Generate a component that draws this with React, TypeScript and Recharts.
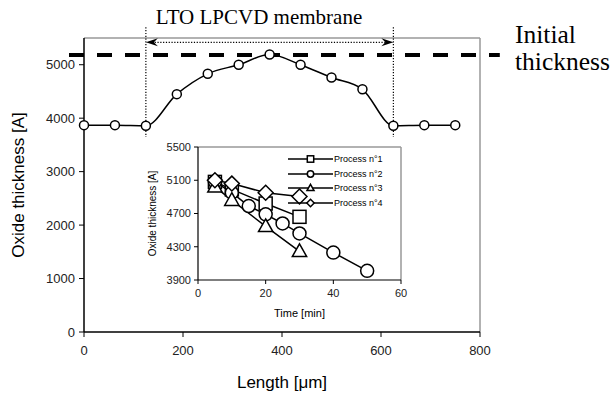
import React from "react";
import {
  ComposedChart,
  LineChart,
  Line,
  XAxis,
  YAxis,
  ReferenceLine,
} from "recharts";

// main profile: oxide thickness along the membrane
const lengthUm = [0, 62.5, 125, 187.5, 250, 312.5, 375, 437.5, 500, 562.5, 625, 687.5, 750];
const oxideA = [3870, 3870, 3860, 4450, 4830, 5000, 5190, 5000, 4760, 4540, 3860, 3870, 3870];
const lengthTicks = [0, 200, 400, 600, 800];
const oxideTicks = [0, 1000, 2000, 3000, 4000, 5000];
const initialThickness = 5180;
const membraneStart = 125;
const membraneEnd = 625;

// inset: oxide thickness vs etch time
const timeTicks = [0, 20, 40, 60];
const insetTicks = [3900, 4300, 4700, 5100, 5500];
const processNames = ["Process n°1", "Process n°2", "Process n°3", "Process n°4"];
const p1Time = [5, 10, 20, 30];
const p1Oxide = [5080, 4990, 4820, 4660];
const p2Time = [5, 10, 15, 20, 25, 30, 40, 50];
const p2Oxide = [5080, 4950, 4790, 4690, 4580, 4460, 4230, 4010];
const p3Time = [5, 10, 20, 30];
const p3Oxide = [5020, 4860, 4545, 4245];
const p4Time = [5, 10, 20, 30];
const p4Oxide = [5100, 5060, 4950, 4905];

const profile = lengthUm.map((x, i) => ({ x, y: oxideA[i] }));
const zip = (t: number[], v: number[]) => t.map((time, i) => ({ t: time, v: v[i] }));
const series = [zip(p1Time, p1Oxide), zip(p2Time, p2Oxide), zip(p3Time, p3Oxide), zip(p4Time, p4Oxide)];
const shapes = ["square", "circle", "triangle", "diamond"];

const SANS = "'Liberation Sans', Arial, sans-serif";
const SERIF = "'Liberation Serif', 'Times New Roman', serif";

function Marker({ shape, cx, cy, s }: { shape: string; cx: number; cy: number; s: number }) {
  const st = { fill: "#fff", stroke: "#000", strokeWidth: 1.5 };
  if (shape === "square") return <rect x={cx - s} y={cy - s} width={s * 2} height={s * 2} {...st} />;
  if (shape === "circle") return <circle cx={cx} cy={cy} r={s} {...st} />;
  if (shape === "triangle")
    return <polygon points={`${cx},${cy - s * 1.15} ${cx + s * 1.1},${cy + s * 0.8} ${cx - s * 1.1},${cy + s * 0.8}`} {...st} />;
  return <polygon points={`${cx},${cy - s * 1.15} ${cx + s * 1.15},${cy} ${cx},${cy + s * 1.15} ${cx - s * 1.15},${cy}`} {...st} />;
}

const dotFor = (shape: string, s: number) => (props: any) => (
  <g key={`${shape}-${props.index}`}>
    <Marker shape={shape} cx={props.cx} cy={props.cy} s={s} />
  </g>
);

const arrowShape = (p: any) => {
  const { x1, y1, x2, y2 } = p;
  const h = 12;
  const w = 4;
  return (
    <g>
      <line x1={x1 + 6} y1={y1} x2={x2 - 6} y2={y2} stroke="#000" strokeWidth={1.2} strokeDasharray="1.2 1.6" />
      <polygon points={`${x1},${y1} ${x1 + h},${y1 - w} ${x1 + h - 4},${y1} ${x1 + h},${y1 + w}`} fill="#000" />
      <polygon points={`${x2},${y2} ${x2 - h},${y2 - w} ${x2 - h + 4},${y2} ${x2 - h},${y2 + w}`} fill="#000" />
    </g>
  );
};

export default function App() {
  return (
    <div style={{ position: "absolute", left: 0, top: 0, width: 615, height: 394, background: "#fff" }}>
      <div style={{ position: "absolute", left: 0, top: 0 }}>
        <ComposedChart width={615} height={394} data={profile} margin={{ top: 38, right: 135, left: 8, bottom: 4 }}>
          <XAxis
            dataKey="x"
            type="number"
            domain={[0, 800]}
            ticks={lengthTicks}
            tick={{ fill: "#222", fontSize: 13, fontFamily: SANS }}
            tickSize={5}
            tickMargin={9}
            axisLine={{ stroke: "#000", strokeWidth: 1.5 }}
            tickLine={{ stroke: "#000" }}
            height={58}
            label={{ value: "Length [μm]", position: "insideBottom", offset: 2, fill: "#000", fontSize: 17, fontFamily: SANS }}
          />
          <YAxis
            type="number"
            domain={[0, 5500]}
            ticks={oxideTicks}
            tick={{ fill: "#222", fontSize: 13, fontFamily: SANS }}
            tickSize={5}
            tickMargin={4}
            axisLine={{ stroke: "#000", strokeWidth: 1.5 }}
            tickLine={{ stroke: "#000" }}
            width={76}
            label={{
              value: "Oxide thickness [A]",
              angle: -90,
              position: "insideLeft",
              offset: 10,
              fill: "#000",
              fontSize: 17,
              fontFamily: SANS,
              style: { textAnchor: "middle" },
            }}
          />
          <ReferenceLine y={5500} stroke="#999" strokeWidth={1.5} />
          <ReferenceLine x={800} stroke="#999" strokeWidth={1.5} />
          <ReferenceLine
            segment={[{ x: membraneStart, y: 5700 }, { x: membraneStart, y: 3650 }]}
            ifOverflow="visible"
            stroke="#000"
            strokeWidth={1.2}
            strokeDasharray="1.2 1.6"
          />
          <ReferenceLine
            segment={[{ x: membraneEnd, y: 5700 }, { x: membraneEnd, y: 3650 }]}
            ifOverflow="visible"
            stroke="#000"
            strokeWidth={1.2}
            strokeDasharray="1.2 1.6"
          />
          <ReferenceLine
            segment={[{ x: membraneStart, y: 5420 }, { x: membraneEnd, y: 5420 }]}
            ifOverflow="visible"
            shape={arrowShape}
          />
          <ReferenceLine
            segment={[{ x: -30.3, y: initialThickness }, { x: 840, y: initialThickness }]}
            ifOverflow="visible"
            stroke="#000"
            strokeWidth={4}
            strokeDasharray="15 13"
          />
          <Line
            dataKey="y"
            type="monotone"
            stroke="#000"
            strokeWidth={1.5}
            dot={dotFor("circle", 4.5)}
            isAnimationActive={false}
          />
        </ComposedChart>
      </div>

      <div style={{ position: "absolute", left: 140, top: 140 }}>
        <LineChart width={270} height={186} margin={{ top: 7, right: 9, left: 4, bottom: 0 }}>
          <XAxis
            dataKey="t"
            type="number"
            domain={[0, 60]}
            ticks={timeTicks}
            tick={{ fill: "#222", fontSize: 11, fontFamily: SANS }}
            tickSize={4}
            tickMargin={5}
            axisLine={{ stroke: "#000", strokeWidth: 1.2 }}
            tickLine={{ stroke: "#000" }}
            height={46}
            label={{ value: "Time [min]", position: "insideBottom", offset: 9, fill: "#000", fontSize: 11, fontFamily: SANS }}
          />
          <YAxis
            type="number"
            domain={[3900, 5500]}
            ticks={insetTicks}
            tick={{ fill: "#222", fontSize: 11, fontFamily: SANS }}
            tickSize={4}
            tickMargin={3}
            axisLine={{ stroke: "#000", strokeWidth: 1.2 }}
            tickLine={{ stroke: "#000" }}
            width={54}
            label={{
              value: "Oxide thickness [A]",
              angle: -90,
              position: "insideLeft",
              offset: 8,
              fill: "#000",
              fontSize: 10,
              fontFamily: SANS,
              style: { textAnchor: "middle" },
            }}
          />
          <ReferenceLine y={5500} stroke="#999" strokeWidth={1.5} />
          <ReferenceLine x={60} stroke="#999" strokeWidth={1.5} />
          {series.map((d, i) => (
            <Line
              key={processNames[i]}
              data={d}
              dataKey="v"
              name={processNames[i]}
              type="linear"
              stroke="#000"
              strokeWidth={1.5}
              dot={dotFor(shapes[i], 6.5)}
              isAnimationActive={false}
            />
          ))}
        </LineChart>
        <div style={{ position: "absolute", left: 148, top: 12, fontFamily: SANS, fontSize: 9, color: "#000" }}>
          {processNames.map((name, i) => (
            <div key={name} style={{ display: "flex", alignItems: "center", height: 14.6 }}>
              <svg width={45} height={12} style={{ display: "block" }}>
                <line x1={0} y1={6} x2={45} y2={6} stroke="#000" strokeWidth={1.5} />
                <Marker shape={shapes[i]} cx={22.5} cy={6} s={3.2} />
              </svg>
              <span style={{ marginLeft: 1, lineHeight: "12px" }}>{name}</span>
            </div>
          ))}
        </div>
      </div>

      <svg width={615} height={394} style={{ position: "absolute", left: 0, top: 0, pointerEvents: "none" }}>
        <text x={259} y={24} textAnchor="middle" fontFamily={SERIF} fontSize={21} fill="#000">
          LTO LPCVD membrane
        </text>
        <text x={515} y={43} fontFamily={SERIF} fontSize={25.5} fill="#000">
          Initial
        </text>
        <text x={515} y={70} fontFamily={SERIF} fontSize={25.5} fill="#000">
          thickness
        </text>
      </svg>
    </div>
  );
}
